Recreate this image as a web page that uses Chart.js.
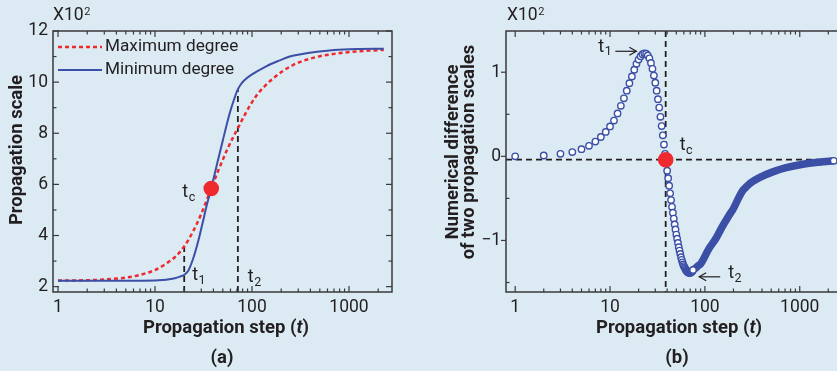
<!DOCTYPE html>
<html>
<head>
<meta charset="utf-8">
<script src="https://cdn.jsdelivr.net/npm/chart.js@4.4.1/dist/chart.umd.min.js"></script>
<style>
  html, body { margin: 0; padding: 0; background: #dbeaf3; overflow: hidden; }
  body { width: 837px; height: 371px; position: relative; }
  canvas { position: absolute; top: 0; }
  #chartA { left: 0; }
  #chartB { left: 420px; }
</style>
</head>
<body>
<canvas id="chartA" width="420" height="371"></canvas>
<canvas id="chartB" width="440" height="371"></canvas>
<script>
// Panel (a): propagation scale (x10^2) against propagation step t
const stepsMax = [1, 2, 3, 5, 7, 10, 13, 16, 20, 25, 30, 38, 45, 55, 64, 71.5, 85, 110, 166, 265, 426, 745, 1200, 2280];
const scaleMax = [2.24, 2.25, 2.28, 2.35, 2.46, 2.65, 2.9, 3.15, 3.57, 4.2, 4.85, 5.84, 6.55, 7.33, 7.85, 8.2, 8.75, 9.45, 10.15, 10.67, 10.95, 11.12, 11.2, 11.26];
const stepsMin = [1, 5, 10, 12, 14, 16, 18, 20, 22, 25, 28, 31, 34, 38, 43, 50, 59, 65, 71, 78, 85, 100, 140, 190, 245, 330, 430, 700, 1200, 2280];
const scaleMin = [2.23, 2.23, 2.24, 2.26, 2.29, 2.33, 2.39, 2.46, 2.62, 3.15, 3.8, 4.5, 5.15, 5.85, 6.7, 7.72, 8.79, 9.3, 9.70, 9.95, 10.1, 10.3, 10.62, 10.84, 11.0, 11.1, 11.17, 11.26, 11.30, 11.31];
const markerSteps = [20, 71.5];     // t1, t2
const markerTops = [3.57, 9.72];    // where the dashed markers meet the curves
const crossA = { step: 38, value: 5.84 };
const xTickLabels = [1, 10, 100, 1000];
const yTicksA = [2, 4, 6, 8, 10, 12];

// Panel (b): difference of the two propagation scales (x10^2)
const diffSteps = [1, 2, 3, 4, 5, 6, 7, 8, 9, 10, 11, 12, 13, 14, 15, 16, 17, 18, 19, 20,
  21, 22, 23, 24, 25, 26, 27, 28, 29, 30, 31, 32, 33, 34, 35, 36, 37, 38, 39, 40,
  41, 42, 43, 44, 45, 46, 47, 48, 49, 50, 51, 52, 53, 54, 55, 56, 57, 58, 59, 60,
  61, 62, 63, 64, 65, 66, 67, 68, 69, 70, 71, 72, 73, 74, 75];
const diffValues = [0.00, 0.01, 0.03, 0.05, 0.085, 0.125, 0.175, 0.23, 0.29, 0.355,
  0.425, 0.51, 0.60, 0.69, 0.78, 0.87, 0.95, 1.03, 1.10, 1.15,
  1.19, 1.215, 1.225, 1.22, 1.20, 1.165, 1.11, 1.04, 0.96, 0.875,
  0.78, 0.68, 0.58, 0.47, 0.36, 0.25, 0.14, 0.03, -0.07, -0.17,
  -0.26, -0.35, -0.44, -0.52, -0.60, -0.67, -0.74, -0.81, -0.87, -0.93,
  -0.98, -1.03, -1.08, -1.12, -1.16, -1.20, -1.23, -1.26, -1.285, -1.305,
  -1.32, -1.335, -1.35, -1.36, -1.37, -1.375, -1.38, -1.385, -1.385, -1.385,
  -1.38, -1.375, -1.37, -1.36, -1.35];
const bandSteps = [75, 80, 85, 90, 110, 130, 150, 180, 200, 230, 250, 270, 300, 380, 520, 720, 1080, 1600, 2280];
const bandValues = [-1.35, -1.33, -1.30, -1.28, -1.10, -0.98, -0.85, -0.70, -0.62, -0.48, -0.41, -0.37, -0.32, -0.25, -0.185, -0.135, -0.095, -0.07, -0.053];
const crossB = { step: 38.6, value: -0.04 };
const yTicksB = [-1, 0, 1];

const BLUE = '#3b4fa6';
const RED = '#ee2a2e';
const INK = '#231f20';
const FRAME = '#3a3a3a';
const tickFont = { family: 'Roboto', size: 17.5 };
const TITLE = 'bold 18.5px Roboto';

function pts(xs, ys) {
  return xs.map((x, i) => ({ x: x, y: ys[i] }));
}

function line(ctx, x1, y1, x2, y2) {
  ctx.beginPath();
  ctx.moveTo(x1, y1);
  ctx.lineTo(x2, y2);
  ctx.stroke();
}

// "t" with a subscript
function subLabel(ctx, main, sub, x, y) {
  ctx.fillStyle = INK;
  ctx.textAlign = 'left';
  ctx.textBaseline = 'middle';
  ctx.font = '18px Roboto';
  ctx.fillText(main, x, y);
  const w = ctx.measureText(main).width;
  ctx.font = '12.5px Roboto';
  ctx.fillText(sub, x + w + 0.5, y + 5);
}

function mixedCentered(ctx, parts, cx, cy) {
  let total = 0;
  parts.forEach(p => { ctx.font = p[1]; total += ctx.measureText(p[0]).width; });
  let x = cx - total / 2;
  ctx.textAlign = 'left';
  ctx.textBaseline = 'middle';
  ctx.fillStyle = INK;
  parts.forEach(p => { ctx.font = p[1]; ctx.fillText(p[0], x, cy); x += ctx.measureText(p[0]).width; });
}

function times100(ctx, x, y) {
  ctx.fillStyle = INK;
  ctx.textAlign = 'left';
  ctx.textBaseline = 'middle';
  ctx.font = '17.5px Roboto';
  ctx.fillText('X10', x, y);
  const w = ctx.measureText('X10').width;
  ctx.font = '11px Roboto';
  ctx.fillText('2', x + w + 0.5, y - 4);
}

function arrow(ctx, x1, y, x2) {
  ctx.strokeStyle = INK;
  ctx.lineWidth = 1.2;
  line(ctx, x1, y, x2, y);
  const d = x2 > x1 ? -1 : 1;
  ctx.beginPath();
  ctx.moveTo(x2 + d * 7, y - 4);
  ctx.lineTo(x2, y);
  ctx.lineTo(x2 + d * 7, y + 4);
  ctx.stroke();
}

// frame and inward tick marks drawn from the chart's scales
function drawFrame(chart, yMajor, yMinor, yOutward) {
  const { ctx, chartArea: a, scales: { x, y } } = chart;
  ctx.save();
  ctx.strokeStyle = FRAME;
  ctx.lineWidth = 1.5;
  ctx.strokeRect(a.left, a.top, a.right - a.left, a.bottom - a.top);
  ctx.lineWidth = 1.2;
  for (const d of [1, 10, 100, 1000]) {
    for (let m = 1; m <= 9; m++) {
      const v = m * d;
      if (v < x.min || v > x.max) continue;
      const px = x.getPixelForValue(v);
      const len = m === 1 ? 6 : 3.5;
      line(ctx, px, a.bottom, px, a.bottom - len);
      line(ctx, px, a.top, px, a.top + len);
    }
  }
  yMajor.forEach(v => {
    const py = y.getPixelForValue(v);
    if (yOutward) line(ctx, a.left - 5, py, a.left, py);
    else line(ctx, a.left, py, a.left + 6, py);
    line(ctx, a.right, py, a.right - 6, py);
  });
  yMinor.forEach(v => {
    const py = y.getPixelForValue(v);
    line(ctx, a.left, py, a.left + 3.5, py);
    line(ctx, a.right, py, a.right - 3.5, py);
  });
  ctx.restore();
}

const panelA = {
  id: 'panelA',
  afterDatasetsDraw(chart) {
    drawFrame(chart, yTicksA, [3, 5, 7, 9, 11], false);
    const { ctx, scales: { x, y } } = chart;
    ctx.save();
    // legend
    ctx.lineWidth = 2.4;
    ctx.strokeStyle = RED;
    ctx.setLineDash([4, 3]);
    line(ctx, 58, 47, 102, 47);
    ctx.setLineDash([]);
    ctx.strokeStyle = BLUE;
    ctx.lineWidth = 2;
    line(ctx, 58, 70, 102, 70);
    ctx.fillStyle = INK;
    ctx.font = '17.2px Roboto';
    ctx.textAlign = 'left';
    ctx.textBaseline = 'middle';
    ctx.fillText('Maximum degree', 105, 47);
    ctx.fillText('Minimum degree', 105, 70);
    // point labels
    const cx = x.getPixelForValue(crossA.step), cy = y.getPixelForValue(crossA.value);
    subLabel(ctx, 't', 'c', cx - 29, cy + 4);
    subLabel(ctx, 't', '1', x.getPixelForValue(markerSteps[0]) + 8, y.getPixelForValue(2) - 11);
    subLabel(ctx, 't', '2', x.getPixelForValue(markerSteps[1]) + 10, y.getPixelForValue(2) - 9);
    times100(ctx, 53, 16);
    // axis titles
    mixedCentered(ctx, [['Propagation step (', TITLE], ['t', 'italic ' + TITLE], [')', TITLE]], 226, 328);
    mixedCentered(ctx, [['(a)', TITLE]], 222, 358);
    ctx.translate(17, 150);
    ctx.rotate(-Math.PI / 2);
    mixedCentered(ctx, [['Propagation scale', TITLE]], 0, 0);
    ctx.restore();
  }
};

const panelB = {
  id: 'panelB',
  beforeDatasetsDraw(chart) {
    const { ctx, chartArea: a, scales: { x, y } } = chart;
    ctx.save();
    ctx.strokeStyle = INK;
    ctx.lineWidth = 1.8;
    ctx.setLineDash([6, 4]);
    const gy = y.getPixelForValue(crossB.value);
    line(ctx, a.left, gy, a.right, gy);
    const gx = x.getPixelForValue(crossB.step);
    line(ctx, gx, a.top, gx, a.bottom);
    ctx.restore();
  },
  afterDatasetsDraw(chart) {
    drawFrame(chart, yTicksB, [-1.5, -0.5, 0.5], true);
    const { ctx, scales: { x, y } } = chart;
    ctx.save();
    const cx = x.getPixelForValue(crossB.step), cy = y.getPixelForValue(crossB.value);
    subLabel(ctx, 't', 'c', cx + 14, cy - 14);
    // t1 at the peak, t2 at the minimum
    const p1x = x.getPixelForValue(diffSteps[22]), p1y = y.getPixelForValue(diffValues[22]);
    subLabel(ctx, 't', '1', p1x - 46, p1y - 6);
    arrow(ctx, p1x - 29, p1y - 2, p1x - 8);
    const p2x = x.getPixelForValue(diffSteps[69]), p2y = y.getPixelForValue(diffValues[69]);
    subLabel(ctx, 't', '2', p2x + 38, p2y + 1);
    arrow(ctx, p2x + 30, p2y + 4, p2x + 9);
    times100(ctx, 87, 16);
    mixedCentered(ctx, [['Propagation step (', TITLE], ['t', 'italic ' + TITLE], [')', TITLE]], 259, 328);
    mixedCentered(ctx, [['(b)', TITLE]], 257, 358);
    ctx.translate(33, 152);
    ctx.rotate(-Math.PI / 2);
    mixedCentered(ctx, [['Numerical difference', TITLE]], 0, 0);
    mixedCentered(ctx, [['of two propagation scales', TITLE]], 0, 16);
    ctx.restore();
  }
};

function logAxis(min, max) {
  return {
    type: 'logarithmic', min: min, max: max,
    afterBuildTicks: s => { s.ticks = xTickLabels.map(v => ({ value: v })); },
    afterFit: s => { s.height = 79; },
    ticks: { callback: v => String(v), font: tickFont, color: INK, padding: 5, maxRotation: 0, autoSkip: false },
    grid: { display: false, drawTicks: false },
    border: { display: false }
  };
}

function valueAxis(min, max, ticks, width, labels) {
  return {
    type: 'linear', min: min, max: max,
    afterBuildTicks: s => { s.ticks = ticks.map(v => ({ value: v })); },
    afterFit: s => { s.width = width; },
    ticks: { callback: labels, font: tickFont, color: INK, padding: 5 },
    grid: { display: false, drawTicks: false },
    border: { display: false }
  };
}

new Chart(document.getElementById('chartA'), {
  type: 'line',
  data: {
    datasets: [
      { label: 'tc', data: [{ x: crossA.step, y: crossA.value }], showLine: false,
        pointRadius: 7.8, pointBackgroundColor: RED, pointBorderWidth: 0, order: 0 },
      { label: 'Minimum degree', data: pts(stepsMin, scaleMin), borderColor: BLUE, borderWidth: 2,
        pointRadius: 0, cubicInterpolationMode: 'monotone', order: 1 },
      { label: 'Maximum degree', data: pts(stepsMax, scaleMax), borderColor: RED, borderWidth: 2.5,
        borderDash: [4, 3], pointRadius: 0, cubicInterpolationMode: 'monotone', order: 2 },
      { label: 't1', data: [{ x: markerSteps[0], y: 1.79 }, { x: markerSteps[0], y: markerTops[0] }],
        borderColor: INK, borderWidth: 1.8, borderDash: [6, 4], pointRadius: 0, order: 3 },
      { label: 't2', data: [{ x: markerSteps[1], y: 1.79 }, { x: markerSteps[1], y: markerTops[1] }],
        borderColor: INK, borderWidth: 1.8, borderDash: [6, 4], pointRadius: 0, order: 3 }
    ]
  },
  options: {
    responsive: false,
    animation: false,
    layout: { padding: { top: 31, right: 28, left: 0, bottom: 0 } },
    plugins: { legend: { display: false }, tooltip: { enabled: false } },
    scales: {
      x: logAxis(0.888, 2775),
      y: valueAxis(1.79, 12, yTicksA, 53, v => String(v))
    }
  },
  plugins: [panelA]
});

new Chart(document.getElementById('chartB'), {
  type: 'line',
  data: {
    datasets: [
      { label: 'tc', data: [{ x: crossB.step, y: crossB.value }], showLine: false,
        pointRadius: 7.8, pointBackgroundColor: RED, pointBorderWidth: 0, order: 0 },
      { label: 'difference', data: pts(diffSteps, diffValues), showLine: false,
        pointRadius: 3.2, pointBorderWidth: 1.4, pointBorderColor: BLUE, pointBackgroundColor: '#ffffff', order: 1 },
      { label: 'difference (dense)', data: pts(bandSteps, bandValues), borderColor: BLUE, borderWidth: 7.5,
        cubicInterpolationMode: 'monotone',
        pointRadius: c => c.dataIndex === bandSteps.length - 1 ? 3.2 : 0,
        pointBorderWidth: 1.4, pointBorderColor: BLUE, pointBackgroundColor: '#ffffff', order: 2 }
    ]
  },
  options: {
    responsive: false,
    animation: false,
    layout: { padding: { top: 31, right: 15, left: 0, bottom: 0 } },
    plugins: { legend: { display: false }, tooltip: { enabled: false } },
    scales: {
      x: logAxis(0.8, 3000),
      y: valueAxis(-1.613, 1.49, yTicksB, 86, v => v < 0 ? '\u2212' + Math.abs(v) : String(v))
    }
  },
  plugins: [panelB]
});
</script>
</body>
</html>
